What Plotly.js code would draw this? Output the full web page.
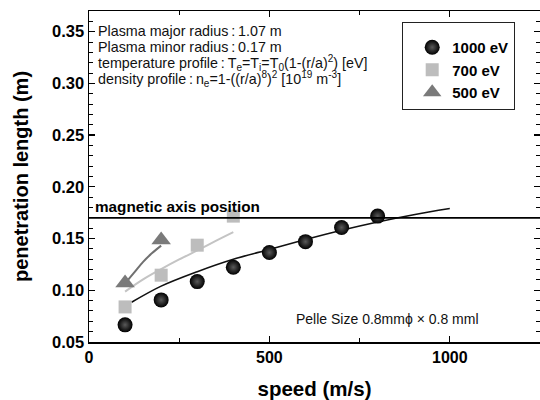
<!DOCTYPE html>
<html>
<head>
<meta charset="utf-8">
<script src="https://cdn.plot.ly/plotly-3.0.1.min.js"></script>
<style>html,body{margin:0;padding:0;background:#fff;}</style>
</head>
<body>
<div id="chart" style="width:540px;height:400px;"></div>
<script>
// ---- data ----
const speed1000 = [100, 200, 300, 400, 500, 600, 700, 800];
const pen1000   = [0.0666, 0.0907, 0.1084, 0.1223, 0.1365, 0.147, 0.1607, 0.1717];
const speed700  = [100, 200, 300, 400];
const pen700    = [0.0839, 0.1146, 0.1436, 0.1717];
const speed500  = [100, 200];
const pen500    = [0.107, 0.1486];

const fit1000X = [118, 200, 300, 400, 500, 600, 700, 800, 900, 1000];
const fit1000Y = [0.0884, 0.104, 0.118, 0.130, 0.1395, 0.149, 0.158, 0.166, 0.173, 0.179];
const fit700X  = [100, 150, 200, 250, 300, 350, 400];
const fit700Y  = [0.0987, 0.1105, 0.1205, 0.1298, 0.1385, 0.1475, 0.1562];
const fit500X  = [100, 125, 150, 175, 200];
const fit500Y  = [0.1066, 0.117, 0.1275, 0.136, 0.1432];

const magneticAxis = 0.17;
const seriesNames = ['1000 eV', '700 eV', '500 eV'];
const C = '\u2009:\u2009';
const infoLines = [
  'Plasma major radius' + C + '1.07 m',
  'Plasma minor radius' + C + '0.17 m',
  'temperature profile' + C + 'T<sub>e</sub>=T<sub>i</sub>=T<sub>0</sub>(1-(r/a)<sup>2</sup>) [eV]',
  'density profile' + C + 'n<sub>e</sub>=1-((r/a)<sup>8</sup>)<sup>2</sup> [10<sup>19</sup> m<sup>-3</sup>]'
];
const magText = 'magnetic axis position';
const pelletText = 'Pelle Size 0.8mmϕ × 0.8 mml';

const FONT = '"Liberation Sans", Arial, Helvetica, sans-serif';

const traces = [
  {x: fit1000X, y: fit1000Y, mode: 'lines', line: {color: '#111', width: 1.6, shape: 'spline'}, showlegend: false, hoverinfo: 'skip'},
  {x: fit700X, y: fit700Y, mode: 'lines', line: {color: '#c4c4c4', width: 2, shape: 'spline'}, showlegend: false, hoverinfo: 'skip'},
  {x: fit500X, y: fit500Y, mode: 'lines', line: {color: '#707070', width: 2, shape: 'spline'}, showlegend: false, hoverinfo: 'skip'},
  {x: speed1000, y: pen1000, mode: 'markers', name: seriesNames[0],
   marker: {symbol: 'circle', size: 15, color: '#000000', gradient: {type: 'radial', color: '#5a5a5a'}, line: {width: 0}}},
  {x: speed700, y: pen700, mode: 'markers', name: seriesNames[1],
   marker: {symbol: 'square', size: 13, color: '#bdbdbd', line: {width: 0}}},
  {x: speed500, y: pen500, mode: 'markers', name: seriesNames[2],
   marker: {symbol: 'triangle-up', size: 17, color: '#7a7a7a', line: {width: 0}}}
];

const PX = v => (v - 89) / 451;
const PY = v => (342 - v) / 331;
const infoY = [30.7, 46.7, 63.3, 79];

const annotations = infoLines.map((t, i) => ({
  text: t, xref: 'paper', yref: 'paper', x: PX(96), y: PY(infoY[i]),
  xanchor: 'left', yanchor: 'middle', showarrow: false,
  font: {family: FONT, size: 14.3, color: '#111'}
}));
annotations.push({text: '<b>' + magText + '</b>', xref: 'paper', yref: 'paper', x: PX(93), y: PY(206),
  xanchor: 'left', yanchor: 'middle', showarrow: false, font: {family: FONT, size: 15.3, color: '#000'}});
annotations.push({text: pelletText, xref: 'paper', yref: 'paper', x: PX(294), y: PY(319),
  xanchor: 'left', yanchor: 'middle', showarrow: false, font: {family: FONT, size: 14, color: '#111'}});

const axisCommon = {
  showgrid: false, zeroline: false, showline: true, linecolor: '#000', linewidth: 1.5,
  mirror: 'ticks', ticks: 'inside', ticklen: 6, tickwidth: 1.3, tickcolor: '#000'
};

const layout = {
  width: 540, height: 400,
  margin: {l: 89, r: 0, t: 11, b: 58},
  paper_bgcolor: '#fff', plot_bgcolor: '#fff',
  font: {family: FONT},
  xaxis: Object.assign({}, axisCommon, {
    range: [0, 1250], tick0: 0, dtick: 500,
    tickfont: {family: FONT, size: 16, color: '#000', weight: 'bold'},
    minor: {dtick: 250, ticks: 'inside', ticklen: 4, tickcolor: '#000', tickwidth: 1},
    title: {text: '<b>speed (m/s)</b>', font: {family: FONT, size: 20.5, color: '#000'}, standoff: 19}
  }),
  yaxis: Object.assign({}, axisCommon, {
    range: [0.05, 0.37], tick0: 0.05, dtick: 0.05, tickformat: '.2f',
    tickfont: {family: FONT, size: 16.5, color: '#000', weight: 'bold'},
    minor: {dtick: 0.01, ticks: 'inside', ticklen: 4, tickcolor: '#000', tickwidth: 1},
    title: {text: '<b>penetration length (m)</b>', font: {family: FONT, size: 20, color: '#000'}, standoff: 18}
  }),
  shapes: [{type: 'line', xref: 'paper', x0: 0, x1: 1, yref: 'y', y0: magneticAxis, y1: magneticAxis,
            line: {color: '#000', width: 1.6}}],
  legend: {
    x: PX(402), y: PY(22), xanchor: 'left', yanchor: 'top',
    bgcolor: '#fff', bordercolor: '#222', borderwidth: 1.2,
    font: {family: FONT, size: 15, color: '#000', weight: 'bold'},
    title: {text: '\u00a0', font: {size: 6}},
    itemwidth: 30, indentation: 9, tracegroupgap: 0
  },
  annotations: annotations,
  showlegend: true
};

Plotly.newPlot('chart', traces, layout, {staticPlot: true, displayModeBar: false});
</script>
</body>
</html>
